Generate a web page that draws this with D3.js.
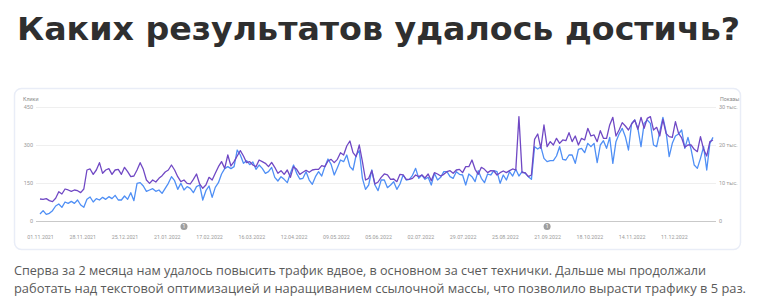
<!DOCTYPE html>
<html><head><meta charset="utf-8">
<script src="https://cdn.jsdelivr.net/npm/d3@7"></script>
<style>body{margin:0;background:#fff;}svg{display:block}</style>
</head><body>
<svg id="c" width="775" height="299"></svg>
<script>
// ---------- DATA ----------
const startDate = "2021-11-01";
const stepDays = 2;
const endDate = "2023-01-05";
// Клики (blue, left axis)
const clicks = [
27.6,40.8,26.3,30.3,40.8,59.2,67.1,53.9,75.0,69.7,
77.6,69.7,82.9,63.2,53.9,85.5,94.7,75.0,88.2,82.9,
93.4,85.5,96.1,88.2,101.3,82.9,82.9,98.7,85.5,111.8,
80.3,148.7,151.3,138.2,117.1,122.4,127.6,117.1,122.4,109.2,
128.9,148.7,175.0,159.2,125.0,148.7,122.4,135.5,128.9,111.8,
135.5,142.1,82.9,119.7,138.2,93.4,132.9,151.3,185.5,206.6,
214.5,206.6,214.5,280.2,260.5,227.6,238.1,222.3,232.9,203.9,
221.0,207.9,188.2,
194.7,211.8,172.4,157.9,175.0,164.5,151.3,188.2,221.0,188.2,
165.8,168.4,194.7,161.8,144.7,175.0,194.7,177.6,214.5,244.7,
223.7,181.6,210.5,240.8,234.2,260.5,214.5,201.3,260.5,277.6,
168.4,125.0,142.1,201.3,142.1,119.7,161.8,161.8,131.6,142.1,
155.2,125.0,146.0,181.6,161.8,164.5,180.3,207.9,168.4,181.6,
164.5,172.4,142.1,188.2,161.8,172.4,194.7,194.7,175.0,168.4,
194.7,184.2,181.6,142.1,185.5,175.0,155.2,198.7,168.4,151.3,
185.5,181.6,
198.7,194.7,148.7,181.6,161.8,194.7,177.6,203.9,177.6,194.7,
188.2,175.0,164.5,293.4,284.2,293.4,247.4,234.2,238.1,238.1,
256.6,293.4,243.4,240.8,260.5,260.5,227.6,282.9,286.8,269.7,
306.6,293.4,306.6,230.2,300.0,317.1,286.8,330.2,227.6,313.1,
343.4,365.8,332.9,280.2,385.5,398.6,365.8,293.4,385.5,398.6,
385.5,300.0,293.4,352.6,409.2,352.6,253.9,306.6,335.5,343.4,
359.2,286.8,330.2,282.9,221.0,207.9,247.4,293.4,201.3,306.6,
330.2
];
// Показы, тыс. (purple, right axis)
const impressions = [
5.79,5.70,5.88,5.35,5.09,5.97,7.72,7.11,8.42,8.16,
7.81,8.16,7.98,7.46,8.42,13.42,13.69,12.28,13.42,15.35,
12.55,13.42,13.77,12.28,13.42,13.60,12.28,14.13,12.98,11.67,
11.84,13.42,15.35,13.60,10.79,9.91,10.79,10.26,11.23,11.93,
12.90,13.42,14.74,13.42,11.67,10.35,10.79,9.91,9.74,10.97,
12.37,9.74,8.60,9.47,11.49,10.79,12.55,14.30,15.62,13.86,
17.37,14.48,15.62,17.11,18.51,17.11,15.35,15.62,14.74,14.30,
16.05,15.62,15.18,
14.30,15.44,14.13,12.55,13.25,12.28,13.42,11.49,14.30,13.60,
12.28,12.81,13.34,12.81,13.42,13.60,13.60,14.56,14.30,15.79,
16.23,15.35,16.23,17.98,17.37,19.74,21.06,17.98,16.93,20.00,
15.62,10.79,11.23,13.25,9.74,10.26,11.49,12.37,12.11,10.97,
11.05,10.35,12.28,12.11,10.97,10.97,11.23,12.11,11.67,12.11,
11.32,12.37,10.62,12.72,12.37,11.84,12.28,12.98,13.25,12.55,
13.42,13.60,12.72,14.30,14.30,16.05,13.60,12.28,14.13,13.60,
12.72,13.25,
13.16,12.11,12.72,13.16,12.72,13.25,13.69,13.42,27.46,12.72,
12.72,11.67,12.11,21.49,22.90,19.13,25.27,19.56,20.88,20.00,
21.76,20.44,21.32,21.14,23.25,20.88,22.37,20.00,21.76,21.32,
24.39,22.37,22.64,20.88,23.77,21.76,21.76,25.27,27.29,22.37,
23.95,25.88,25.00,23.95,25.53,26.58,24.13,27.29,24.39,27.02,
27.46,23.95,24.65,22.37,26.76,23.07,22.20,22.02,26.14,23.07,
21.85,19.39,20.00,20.00,18.86,18.25,22.20,18.86,17.11,20.88,
21.32
];
const xTickLabels = ["01.11.2021","28.11.2021","25.12.2021","21.01.2022","17.02.2022","16.03.2022","12.04.2022","09.05.2022","05.06.2022","02.07.2022","29.07.2022","25.08.2022","21.09.2022","18.10.2022","14.11.2022","11.12.2022"];
const leftTicks = [0,150,300,450];
const rightTicks = [0,10,20,30];
const rightTickLabels = ["0","10 тыс.","20 тыс.","30 тыс."];
const leftAxisTitle = "Клики";
const rightAxisTitle = "Показы";
const annotationDates = ["2022-02-01","2022-09-21"];
const annotationLabels = ["1","1"];
const titleText = "Каких результатов удалось достичь?";
const bodyLines = [
"Сперва за 2 месяца нам удалось повысить трафик вдвое, в основном за счет технички. Дальше мы продолжали",
"работать над текстовой оптимизацией и наращиванием ссылочной массы, что позволило вырасти трафику в 5 раз."
];

// ---------- DRAW ----------
const svg = d3.select("#c");
const parseISO = d3.utcParse("%Y-%m-%d");
const parseRu = d3.utcParse("%d.%m.%Y");
const start = parseISO(startDate);
const dates = clicks.map((_, i) => d3.utcDay.offset(start, i * stepDays));

const x = d3.scaleUtc().domain([start, parseISO(endDate)]).range([40, 713]);
const yL = d3.scaleLinear().domain([0, 450]).range([221, 107]);
const yR = d3.scaleLinear().domain([0, 30]).range([221, 107]);
const gridL = 36, gridR = 716;

// title
svg.append("text").attr("x", 17).attr("y", 40)
  .attr("font-family", "DejaVu Sans").attr("font-weight", "bold")
  .attr("font-size", 32).attr("fill", "#2f2f2f")
  .attr("textLength", 723).attr("lengthAdjust", "spacingAndGlyphs")
  .text(titleText);

// card
svg.append("rect").attr("x", 14.5).attr("y", 88.5).attr("width", 726).attr("height", 161)
  .attr("rx", 7).attr("fill", "#fff").attr("stroke", "#e9edf7").attr("stroke-width", 1.5);

const fontAx = "Roboto";
// left axis + grid
const gL = svg.append("g").attr("transform", `translate(${gridL},0)`)
  .call(d3.axisLeft(yL).tickValues(leftTicks).tickSize(-(gridR - gridL)).tickPadding(3));
gL.select(".domain").remove();
gL.selectAll(".tick line").attr("stroke", d => d === 0 ? "#c9c9c9" : "#efefef").attr("stroke-width", 1);
gL.selectAll(".tick text").attr("fill", "#9a9a9a").attr("font-family", fontAx).attr("font-size", 5.5);

// right axis
const gR = svg.append("g").attr("transform", `translate(${gridR},0)`)
  .call(d3.axisRight(yR).tickValues(rightTicks).tickSize(0).tickPadding(3)
    .tickFormat((d, i) => rightTickLabels[i]));
gR.select(".domain").remove();
gR.selectAll(".tick text").attr("fill", "#9a9a9a").attr("font-family", fontAx).attr("font-size", 5.5);

// x axis
const gX = svg.append("g").attr("transform", `translate(0,221)`)
  .call(d3.axisBottom(x).tickValues(xTickLabels.map(parseRu)).tickSize(0).tickPadding(14.5)
    .tickFormat((d, i) => xTickLabels[i]));
gX.select(".domain").remove();
gX.selectAll(".tick text").attr("fill", "#9a9a9a").attr("font-family", fontAx).attr("font-size", 5.3);

// axis titles
svg.append("text").attr("x", 23).attr("y", 101).attr("font-family", fontAx).attr("font-size", 5.3)
  .attr("fill", "#8a8a8a").text(leftAxisTitle);
svg.append("text").attr("x", 720).attr("y", 101).attr("font-family", fontAx).attr("font-size", 5.3)
  .attr("fill", "#8a8a8a").text(rightAxisTitle);

// lines
const lineL = d3.line().x((d, i) => x(dates[i])).y(d => yL(d));
const lineR = d3.line().x((d, i) => x(dates[i])).y(d => yR(d));
svg.append("path").datum(clicks).attr("d", lineL).attr("fill", "none")
  .attr("stroke", "#4f8ff5").attr("stroke-width", 1.3).attr("stroke-linejoin", "round");
svg.append("path").datum(impressions).attr("d", lineR).attr("fill", "none")
  .attr("stroke", "#7048c4").attr("stroke-width", 1.3).attr("stroke-linejoin", "round");

// annotations
annotationDates.forEach((d, i) => {
  const cx = x(parseISO(d));
  svg.append("circle").attr("cx", cx).attr("cy", 226.5).attr("r", 3.5).attr("fill", "#9e9e9e");
  svg.append("text").attr("x", cx).attr("y", 228.3).attr("text-anchor", "middle")
    .attr("font-family", fontAx).attr("font-size", 5).attr("fill", "#fff").text(annotationLabels[i]);
});

// body text
bodyLines.forEach((t, i) => {
  svg.append("text").attr("x", 14).attr("y", 275 + i * 18)
    .attr("font-family", "Open Sans").attr("font-size", 12.2).attr("fill", "#5a5a5a")
    .attr("textLength", i === 0 ? 692 : 732).attr("lengthAdjust", "spacingAndGlyphs")
    .text(t);
});
</script>
</body></html>
